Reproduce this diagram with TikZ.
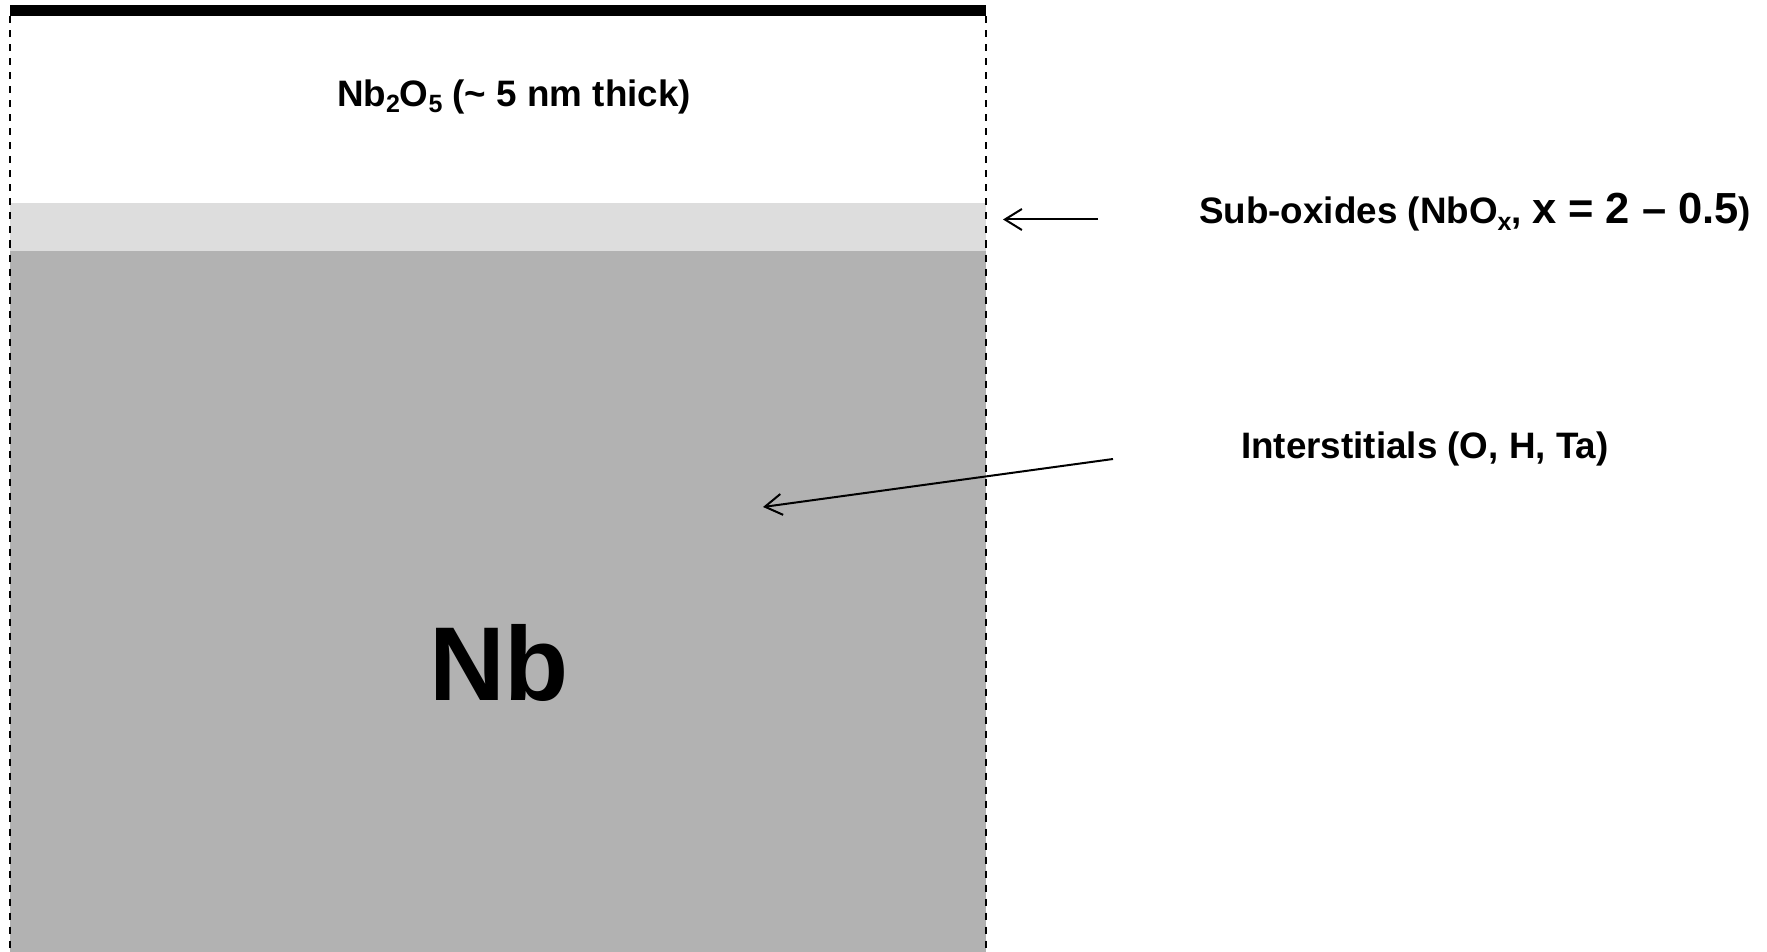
\documentclass[tikz,border=0pt]{standalone}
\usepackage{fontspec}
\setmainfont{Liberation Sans}
\usetikzlibrary{arrows.meta}
\definecolor{suboxide}{RGB}{221,221,221}
\definecolor{metal}{RGB}{178,178,178}
% lowered index in a smaller size, for chemical formulae
\newcommand\lowidx[1]{\raisebox{-6pt}{\fontsize{25}{25}\selectfont #1}}
\begin{document}
\begin{tikzpicture}[x=1pt,y=-1pt,
  caption/.style={font=\fontsize{36.8}{42}\selectfont\bfseries, inner sep=0pt, anchor=base west},
  pointer/.style={draw=black, line width=2pt,
    -{Straight Barb[length=17pt,width=21pt,line width=2pt]}},
  sampleedge/.style={draw=black, line width=1.6pt, dash pattern=on 7pt off 7pt}]
\useasboundingbox (0,0) rectangle (1767,952);
\fill[white] (0,0) rectangle (1767,952);

% layer stack: oxide, sub-oxide band, bulk niobium
\fill[suboxide] (10,203) rectangle (986,251);
\fill[metal] (10,251) rectangle (986,952);
\fill[black] (10,5) rectangle (986,16.5);
\draw[sampleedge] (10,16.5) -- (10,952);
\draw[sampleedge] (986,16.5) -- (986,952);

% labels
\node[caption, anchor=base] (oxide) at (514,107)
  {Nb\lowidx{2}O\lowidx{5} (\textasciitilde{} 5 nm thick)};
\node[font=\fontsize{105}{120}\selectfont\bfseries, inner sep=0pt, anchor=base] (nb) at (499,700) {Nb};
\node[caption] (subox) at (1199,224)
  {Sub-oxides (NbO\lowidx{x}, {\fontsize{43.5}{46}\selectfont x = 2 -- 0.5})};
\node[caption] (inter) at (1241,458) {Interstitials (O, H, Ta)};

% pointers into the layers
\coordinate (p1s) at (1098,219.5);
\coordinate (p1t) at (1003,219.5);
\coordinate (p2s) at (1113,459);
\coordinate (p2t) at (763,507);
\draw[pointer] (p1s) -- (p1t);
\draw[pointer] (p2s) -- (p2t);
\end{tikzpicture}
\end{document}
